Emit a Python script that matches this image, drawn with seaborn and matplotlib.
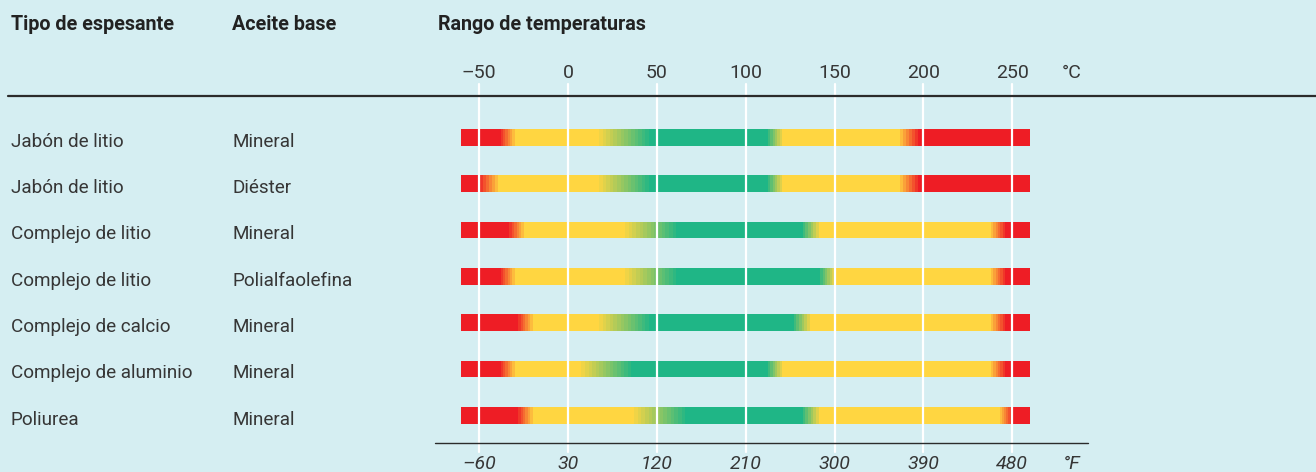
import numpy as np
import matplotlib
matplotlib.use("Agg")
import matplotlib.pyplot as plt
import matplotlib.transforms as mtransforms
import seaborn as sns

# ---- data -------------------------------------------------------------
espesantes = ["Jabón de litio", "Jabón de litio", "Complejo de litio",
              "Complejo de litio", "Complejo de calcio",
              "Complejo de aluminio", "Poliurea"]
aceites = ["Mineral", "Diéster", "Mineral", "Polialfaolefina",
           "Mineral", "Mineral", "Mineral"]

# full span of every bar (°C)
t_min, t_max = -60, 260

# transition zones (°C): start / end of each colour change
rojo_amarillo_ini = [-38, -49.5, -33, -38, -28, -38, -28]
rojo_amarillo_fin = [-30, -39.5, -25, -30, -20, -30, -20]
amarillo_verde_ini = [17.5, 17.5, 32, 32, 17.5, 7.5, 37]
amarillo_verde_fin = [45.5, 45.5, 61, 61, 45.5, 35.5, 66]
verde_amarillo_ini = [112.5, 112.5, 132, 142, 127, 112.5, 132]
verde_amarillo_fin = [120.5, 120.5, 141, 150, 136, 120.5, 141]
amarillo_rojo_ini = [187, 187, 238, 238, 238, 238, 243]
amarillo_rojo_fin = [197, 197, 246, 246, 246, 246, 250]

ticks_c = [-50, 0, 50, 100, 150, 200, 250]
ticks_f = [-60, 30, 120, 210, 300, 390, 480]

# ---- style ------------------------------------------------------------
FONDO = "#D5EEF2"
ROJO = "#EE1D25"
AMARILLO = "#FFD641"
VERDE = "#1FB686"
TEXTO = "#363636"

sns.set_theme(style="white", rc={"figure.facecolor": FONDO,
                                 "axes.facecolor": FONDO})
plt.rcParams["font.family"] = ["Roboto", "DejaVu Sans"]

W, H = 1316, 472
fig = plt.figure(figsize=(W / 100, H / 100), dpi=100)
ax = fig.add_axes([0, 0, 1, 1])
ax.set_axis_off()

# pixel-aligned scales: x in °C, y in row index
PX_PER_C = 1.7767
X0_PX = 568.1
ax.set_xlim(-X0_PX / PX_PER_C, (W - X0_PX) / PX_PER_C)
ROW0_PX, ROW_PX = 137.3, 46.33
ax.set_ylim((H - ROW0_PX) / ROW_PX, -ROW0_PX / ROW_PX)


def fy(py):
    """axes fraction for a pixel row measured from the top"""
    return 1 - py / H


BAR_H = 16.8 / ROW_PX


def tramo(ax, fila, ini, fin, c_ini, c_fin, pasos):
    """stepped colour blend between two zones"""
    cols = sns.blend_palette([c_ini, c_fin], n_colors=pasos + 2)[1:-1]
    bordes = np.linspace(ini, fin, pasos + 1)
    ax.barh([fila] * pasos, np.diff(bordes), left=bordes[:-1],
            height=BAR_H, color=cols, linewidth=0, zorder=2)


for i in range(len(espesantes)):
    # solid zones
    solidos = [
        (t_min, rojo_amarillo_ini[i], ROJO),
        (rojo_amarillo_fin[i], amarillo_verde_ini[i], AMARILLO),
        (amarillo_verde_fin[i], verde_amarillo_ini[i], VERDE),
        (verde_amarillo_fin[i], amarillo_rojo_ini[i], AMARILLO),
        (amarillo_rojo_fin[i], t_max, ROJO),
    ]
    for a, b, c in solidos:
        ax.barh(i, b - a, left=a, height=BAR_H, color=c, linewidth=0,
                zorder=2)
    tramo(ax, i, rojo_amarillo_ini[i], rojo_amarillo_fin[i], ROJO, AMARILLO, 6)
    tramo(ax, i, amarillo_verde_ini[i], amarillo_verde_fin[i], AMARILLO, VERDE, 14)
    tramo(ax, i, verde_amarillo_ini[i], verde_amarillo_fin[i], VERDE, AMARILLO, 6)
    tramo(ax, i, amarillo_rojo_ini[i], amarillo_rojo_fin[i], AMARILLO, ROJO, 6)

# white vertical grid
for t in ticks_c:
    ax.axvline(t, ymin=fy(452), ymax=fy(84), color="white", lw=1.6, zorder=3)

# rules
ax.axhline((96 - ROW0_PX) / ROW_PX, xmin=8 / W, xmax=1, color="#2B2B2B",
           lw=1.6, zorder=4)
ax.axhline((443.3 - ROW0_PX) / ROW_PX, xmin=435 / W, xmax=1088 / W,
           color="#2B2B2B", lw=1.0, zorder=4)

# headers
hdr = dict(transform=ax.transAxes, fontsize=14.2, fontweight="bold",
           color="#222222", va="baseline", ha="left")
ax.text(11 / W, fy(29.5), "Tipo de espesante", **hdr)
ax.text(232 / W, fy(29.5), "Aceite base", **hdr)
ax.text(438 / W, fy(29.5), "Rango de temperaturas", **hdr)

# row labels
trans_rows = mtransforms.blended_transform_factory(ax.transAxes, ax.transData)
for i, (e, a) in enumerate(zip(espesantes, aceites)):
    ax.text(11 / W, i + 9.4 / ROW_PX, e, transform=trans_rows, fontsize=13.6,
            color=TEXTO, va="baseline", ha="left")
    ax.text(232 / W, i + 9.4 / ROW_PX, a, transform=trans_rows, fontsize=13.6,
            color=TEXTO, va="baseline", ha="left")

# temperature scales
trans_x = mtransforms.blended_transform_factory(ax.transData, ax.transAxes)
for t in ticks_c:
    lab = f"{t}".replace("-", "\u2013")
    ax.text(t, fy(78.3), lab, transform=trans_x, fontsize=14,
            color=TEXTO, ha="center", va="baseline")
ax.text(1061.5 / W, fy(78.3), "°C", transform=ax.transAxes, fontsize=14,
        color=TEXTO, ha="left", va="baseline")

for t, f in zip(ticks_c, ticks_f):
    lab = f"{f}".replace("-", "\u2013")
    ax.text(t, fy(469), lab, transform=trans_x, fontsize=14, style="italic",
            color=TEXTO, ha="center", va="baseline")
ax.text(1063 / W, fy(469), "°F", transform=ax.transAxes, fontsize=14,
        style="italic", color=TEXTO, ha="left", va="baseline")

fig.savefig("out.png", dpi=100, facecolor=FONDO)
